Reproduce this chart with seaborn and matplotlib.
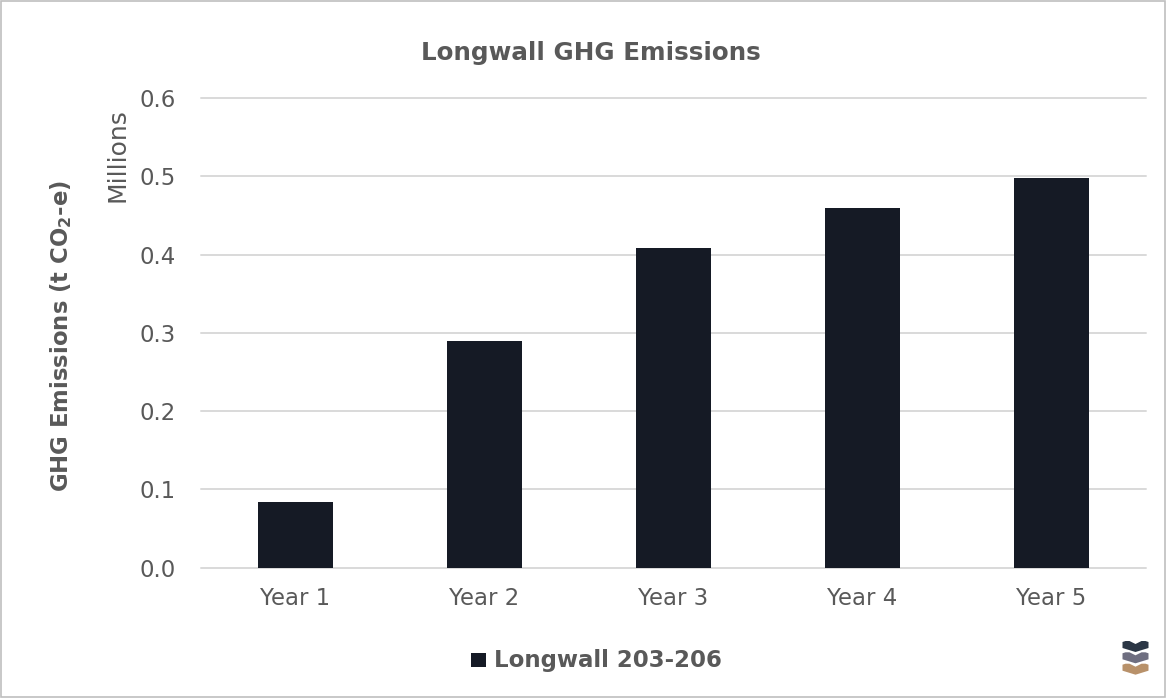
import matplotlib
matplotlib.use("Agg")
import matplotlib.pyplot as plt
import seaborn as sns
import pandas as pd
from matplotlib.patches import Polygon, Rectangle

categories = ["Year 1", "Year 2", "Year 3", "Year 4", "Year 5"]
values = [0.084, 0.289, 0.408, 0.459, 0.498]  # millions t CO2-e
series_name = "Longwall 203-206"
yticks = [0.0, 0.1, 0.2, 0.3, 0.4, 0.5, 0.6]

sns.set_theme(style="white")
plt.rcParams['font.family'] = ['DejaVu Sans']
plt.rcParams['mathtext.default'] = 'regular'

TXT = "#595959"
BAR = "#151a25"
W, H = 1166, 698

df = pd.DataFrame({"Year": categories, "Emissions": values})

fig = plt.figure(figsize=(W / 100, H / 100), dpi=100)
ax = fig.add_axes([201 / W, 1 - 567.7 / H, (1146 - 201) / W, (567.7 - 98) / H])

sns.barplot(data=df, x="Year", y="Emissions", color=BAR, width=0.4,
            saturation=1, ax=ax, label=series_name, edgecolor="none")

ax.set_ylim(0, 0.6)
ax.set_yticks(yticks)
ax.set_yticklabels([f"{v:.1f}" for v in yticks])
ax.yaxis.grid(True, color="#d9d9d9", linewidth=1.4)
ax.set_axisbelow(True)
for gl in ax.get_ygridlines():
    gl.set_clip_on(False)
for s in ax.spines.values():
    s.set_visible(False)
ax.tick_params(axis="x", length=0, labelsize=13, colors=TXT, pad=14)
ax.tick_params(axis="y", length=0, labelsize=13, colors=TXT, pad=18)
ax.set_xlabel("")
ax.set_ylabel("")

title = fig.text(591 / W, 1 - 53 / H, "Longwall GHG Emissions", ha="center", va="center",
                 fontsize=15, fontweight="bold", color=TXT)
ylab = fig.text(61 / W, 1 - 336 / H, "GHG Emissions (t CO$_2$-e)", rotation=90, ha="center",
                va="center", fontsize=13.5, fontweight="bold", color=TXT)
mill = fig.text(117.5 / W, 1 - 155 / H, "Millions", rotation=90, ha="center", va="center",
                fontsize=13, color=TXT)

leg = ax.legend(loc="center", frameon=False, fontsize=13.5, handlelength=0.82,
                handleheight=0.82, handletextpad=0.4)
leg.set_bbox_to_anchor((596 / W, 1 - 660 / H), transform=fig.transFigure)
for t in leg.get_texts():
    t.set_color(TXT)
    t.set_fontweight("bold")

# fit font sizes to the reference text extents
fig.canvas.draw()
r = fig.canvas.get_renderer()

def fit(txt, target, horizontal=True):
    bb = txt.get_window_extent(r)
    cur = bb.width if horizontal else bb.height
    txt.set_fontsize(txt.get_fontsize() * target / cur)

fit(title, 341)
fit(ylab, 312, horizontal=False)
fit(mill, 94, horizontal=False)
xl = ax.get_xticklabels()
s = 70 / xl[0].get_window_extent(r).width
for t in ax.get_xticklabels() + ax.get_yticklabels():
    t.set_fontsize(t.get_fontsize() * s)
lt = leg.get_texts()[0]
ls = 228 / lt.get_window_extent(r).width
for t in leg.get_texts():
    t.set_fontsize(t.get_fontsize() * ls)
leg._fontsize = leg.texts[0].get_fontsize()

# outer border
fig.patches.append(Rectangle((0.001, 0.001), 0.998, 0.997, transform=fig.transFigure,
                             fill=False, edgecolor="#bfbfbf", linewidth=1.2))

# small logo (three chevrons)
def chevron(cx, cy, color):
    pts = [(-13, 4.5), (-10, 5.5), (-6, 5.5), (0, 2.5), (6, 5.5), (10, 5.5), (13, 4.5),
           (13, -1.5), (0, -5.5), (-13, -1.5)]
    poly = [((cx + px) / W, (cy + py) / H) for px, py in pts]
    fig.patches.append(Polygon(poly, closed=True, transform=fig.transFigure,
                               facecolor=color, edgecolor="none"))
chevron(1135.5, H - 646.5, "#2b3645")
chevron(1135.5, H - 657.8, "#6e6e80")
chevron(1135.5, H - 669.2, "#b8916a")

fig.savefig("out.png", dpi=100)
